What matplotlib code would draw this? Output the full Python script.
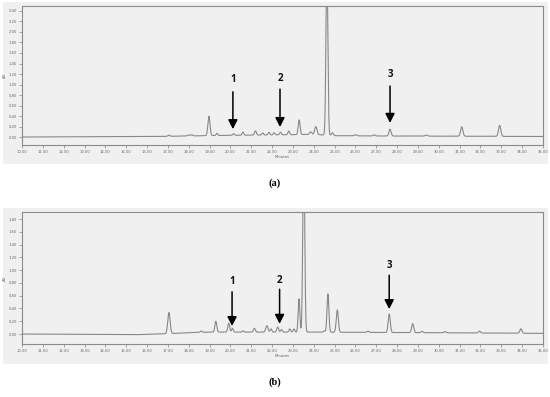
import numpy as np
import matplotlib
matplotlib.use("Agg")
import matplotlib.pyplot as plt

plt.rcParams["font.serif"] = ["Liberation Serif", "DejaVu Serif"]

# ---------------- data ----------------
# Panel (a): peak retention times (min), heights above baseline (AU), widths (sigma, min)
a_rt = [17.05, 18.0, 18.15, 18.97, 19.35, 20.15, 20.6, 21.2, 21.55, 21.85, 22.1, 22.4,
        22.8, 23.3, 23.85, 24.1, 24.63, 24.9, 26.0, 26.9, 27.66, 29.4, 31.1, 32.92]
a_h = [0.02, 0.02, 0.02, 0.37, 0.04, 0.03, 0.06, 0.08, 0.04, 0.05, 0.04, 0.05,
       0.07, 0.28, 0.05, 0.15, 3.2, 0.05, 0.02, 0.02, 0.13, 0.02, 0.18, 0.21]
a_w = [0.05, 0.05, 0.05, 0.05, 0.04, 0.04, 0.04, 0.045, 0.04, 0.04, 0.04, 0.04,
       0.04, 0.045, 0.05, 0.055, 0.045, 0.05, 0.06, 0.05, 0.05, 0.06, 0.055, 0.055]
a_base_t = [10.0, 16.5, 18.0, 19.5, 22.0, 24.0, 25.0, 27.0, 35.0]
a_base_v = [0.0, 0.01, 0.02, 0.03, 0.04, 0.05, 0.025, 0.02, 0.01]

# Panel (b)
b_rt = [17.05, 18.6, 19.3, 19.92, 20.1, 20.6, 21.15, 21.75, 21.95, 22.27, 22.45, 22.85,
        23.05, 23.29, 23.52, 24.5, 24.68, 25.13, 26.6, 27.62, 28.75, 29.2, 30.3, 31.95, 33.94]
b_h = [0.33, 0.02, 0.17, 0.14, 0.06, 0.02, 0.06, 0.10, 0.05, 0.08, 0.04, 0.05,
       0.05, 0.52, 3.0, 0.02, 0.60, 0.35, 0.02, 0.29, 0.14, 0.02, 0.02, 0.03, 0.07]
b_w = [0.055, 0.05, 0.045, 0.045, 0.04, 0.04, 0.045, 0.055, 0.04, 0.045, 0.04, 0.04,
       0.04, 0.04, 0.045, 0.04, 0.045, 0.05, 0.05, 0.05, 0.05, 0.05, 0.05, 0.05, 0.05]
b_base_t = [10.0, 14.0, 15.5, 16.5, 18.0, 19.0, 22.0, 24.0, 30.0, 35.0]
b_base_v = [0.0, -0.005, -0.01, 0.0, 0.02, 0.03, 0.03, 0.03, 0.02, 0.01]

# Arrow annotations: (x, tip y, tail y, label y, label)
a_arrows = [(20.12, 0.15, 0.86, 1.10, "1"), (22.38, 0.19, 0.91, 1.12, "2"), (27.66, 0.27, 0.97, 1.20, "3")]
b_arrows = [(20.08, 0.125, 0.66, 0.83, "1"), (22.36, 0.16, 0.70, 0.84, "2"), (27.62, 0.39, 0.92, 1.07, "3")]

x_ticks = [10.0 + i for i in range(26)]
a_yticks = [0.2 * i for i in range(13)]
b_yticks = [0.2 * i for i in range(10)]

# ---------------- drawing ----------------
W, H = 550, 397
fig = plt.figure(figsize=(W / 100, H / 100), dpi=100)
fig.patch.set_facecolor("white")

GREY = "#f0f0f0"


def px_axes(left, top, right, bottom, **kw):
    return fig.add_axes([left / W, 1 - bottom / H, (right - left) / W, (bottom - top) / H], **kw)


def trace(rt, h, w, bt, bv):
    t = np.linspace(10, 35, 6000)
    y = np.interp(t, bt, bv)
    for r, hh, ww in zip(rt, h, w):
        y = y + hh * np.exp(-0.5 * ((t - r) / ww) ** 2)
    return t, y


def panel(top, bottom, gtop, gbottom, rt, h, w, bt, bv, ylim, yticks, arrows, caption, cap_y):
    # grey background panel
    bg = px_axes(3, gtop, 548, gbottom, zorder=0)
    bg.set_facecolor(GREY)
    bg.set_xticks([])
    bg.set_yticks([])
    for s in bg.spines.values():
        s.set_visible(False)

    ax = px_axes(22, top, 543, bottom, zorder=1)
    ax.set_facecolor(GREY)
    t, y = trace(rt, h, w, bt, bv)
    ax.plot(t, y, color="#888888", lw=0.8)
    ax.set_xlim(10, 35)
    ax.set_ylim(*ylim)
    ax.set_xticks(x_ticks)
    ax.set_xticklabels([f"{v:.2f}" for v in x_ticks])
    ax.set_xticks(np.arange(10, 35.01, 0.2), minor=True)
    ax.set_yticks(yticks)
    ax.set_yticklabels([f"{v:.2f}" for v in yticks])
    ax.tick_params(axis="both", which="major", labelsize=2.7, length=2, width=0.4,
                   colors="#666666", pad=1.5)
    ax.tick_params(axis="x", which="minor", length=1, width=0.3, colors="#707070")
    for s in ax.spines.values():
        s.set_color("#8a8a8a")
        s.set_linewidth(0.8)
    ax.set_xlabel("Minutes", fontsize=2.7, color="#606060", labelpad=1)
    ax.set_ylabel("AU", fontsize=2.7, color="#606060", labelpad=1)
    for x, tip, tail, ly, lab in arrows:
        ax.annotate("", xy=(x, tip), xytext=(x, tail),
                    arrowprops=dict(arrowstyle="-|>,head_length=0.55,head_width=0.28",
                                    color="black", lw=1.1, shrinkA=0, shrinkB=0))
        ax.text(x, ly, lab, ha="center", va="center", fontsize=7, fontweight="bold",
                family="Open Sans", color="#111111")
    fig.text(0.5, 1 - cap_y / H, caption, ha="center", va="center", fontsize=7.5,
             family="serif", fontweight="bold")
    return ax


panel(6, 145, 2, 164, a_rt, a_h, a_w, a_base_t, a_base_v, (-0.152, 2.495), a_yticks,
      a_arrows, "(a)", 183)
panel(212, 344, 208, 364, b_rt, b_h, b_w, b_base_t, b_base_v, (-0.156, 1.91), b_yticks,
      b_arrows, "(b)", 382)

fig.savefig("out.png", dpi=100)
